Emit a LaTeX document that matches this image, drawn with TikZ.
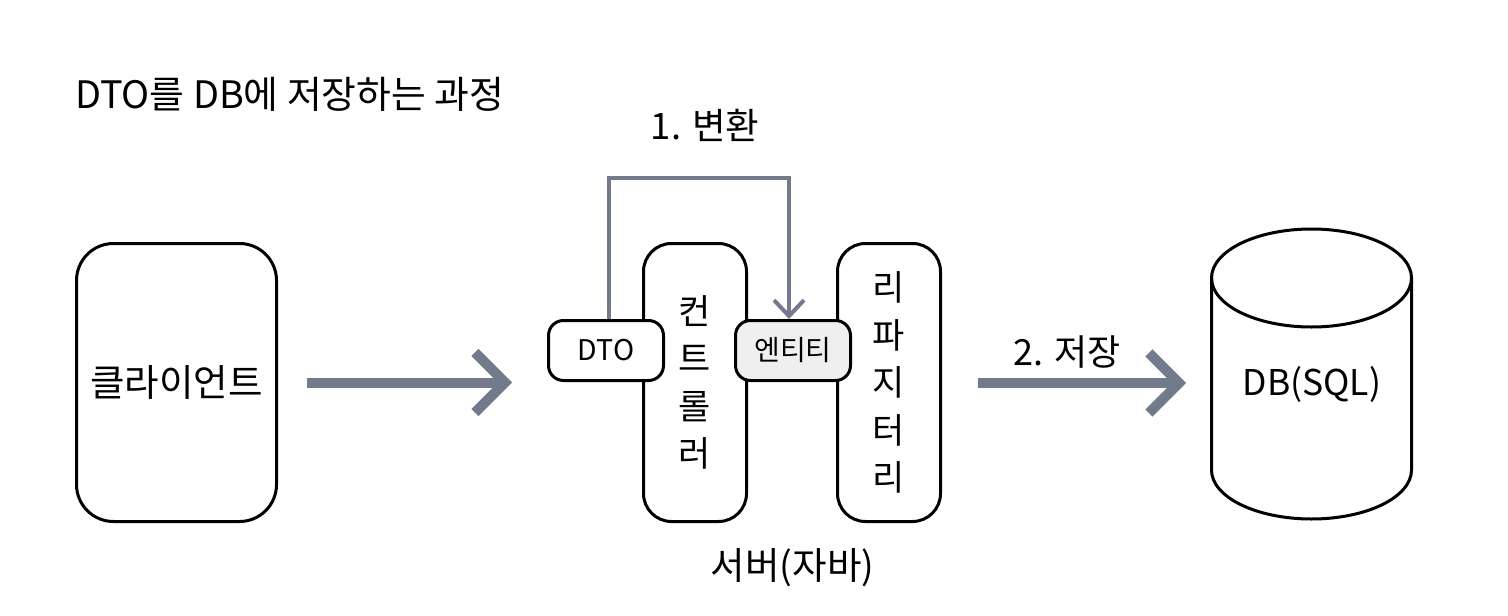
\documentclass[tikz,border=0pt]{standalone}
\usepackage{fontspec}
\setmainfont{Noto Sans CJK KR}
\usetikzlibrary{arrows.meta}
\definecolor{flow}{RGB}{115,122,140}
\definecolor{entfill}{RGB}{239,239,239}
\begin{document}
\begin{tikzpicture}[x=1pt,y=-1pt,
  box/.style={draw=black, line width=3pt, fill=white, inner sep=0pt, align=center},
  txt/.style={inner sep=0pt, text=black},
  bigarrow/.style={draw=flow, line width=10pt, -{Straight Barb[sharp, length=30pt, width=60pt]}},
  conn/.style={draw=flow, line width=4pt, -{Straight Barb[sharp, length=16pt, width=30pt]}},
]
\fill[white] (0,0) rectangle (1508,616);
\useasboundingbox (0,0) rectangle (1508,616);

\node[txt, anchor=west, font=\fontsize{37.8}{44}\selectfont] (title) at (75,94) {DTO를 DB에 저장하는 과정};

\node[box, rounded corners=37pt, minimum width=200pt, minimum height=278pt, font=\fontsize{37.5}{44}\selectfont] (client) at (176.5,382.5) {클라이언트};

\node[box, rounded corners=28pt, minimum width=103pt, minimum height=278pt, font=\fontsize{35}{47.5}\selectfont] (ctrl) at (695,382.5) {컨\\트\\롤\\러};
\node[box, rounded corners=28pt, minimum width=103pt, minimum height=278pt, font=\fontsize{35}{47.5}\selectfont] (repo) at (889,382.5) {리\\파\\지\\터\\리};

\node[box, rounded corners=15pt, minimum width=115pt, minimum height=60pt, font=\fontsize{28.5}{32}\selectfont] (dto) at (606,350.5) {DTO};
\node[box, fill=entfill, rounded corners=15pt, minimum width=115pt, minimum height=60pt, font=\fontsize{28}{32}\selectfont] (ent) at (793,350.5) {엔티티};

\coordinate (bend) at (700,177.5);
\draw[conn] ([xshift=3pt]dto.north) |- (bend) -| ([xshift=-4pt]ent.north);
\node[txt, font=\fontsize{36.5}{42}\selectfont] (lbl1) at (705,125) {1. 변환};

\draw[bigarrow, shorten <=28.5pt, shorten >=35pt] (client.east) -- (client.east -| dto.west);

% database cylinder
\draw[line width=3pt, fill=white] (1211.5,278) -- (1211.5,470) arc[start angle=180, end angle=360, x radius=100pt, y radius=49pt] -- (1411.5,278);
\draw[line width=3pt] (1311.5,278) ellipse[x radius=100pt, y radius=49pt];
\node[txt, font=\fontsize{35.5}{42}\selectfont] (db) at (1312,384) {DB(SQL)};

\coordinate (dbw) at (1211.5,383);
\draw[bigarrow, shorten <=35.5pt, shorten >=25.5pt] (repo.east |- dbw) -- (dbw);
\node[txt, font=\fontsize{36}{42}\selectfont] (lbl2) at (1067,352) {2. 저장};

\node[txt, font=\fontsize{37.5}{42}\selectfont] (server) at (792.5,568) {서버(자바)};
\end{tikzpicture}
\end{document}
